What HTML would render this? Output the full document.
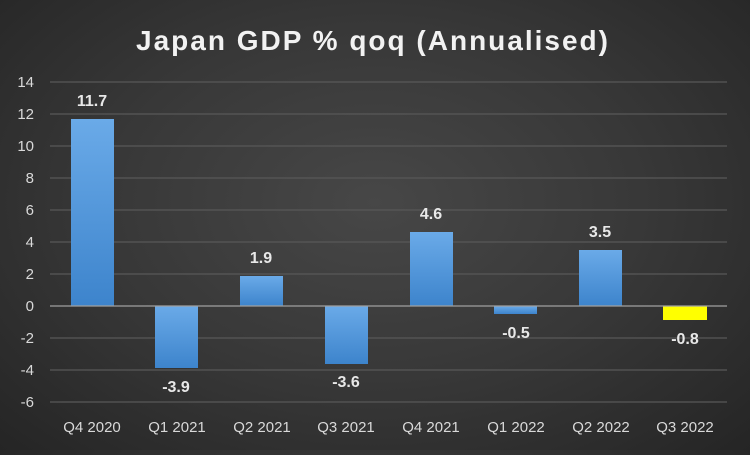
<!DOCTYPE html>
<html><head><style>
html,body{margin:0;padding:0;}
body{width:750px;height:450px;overflow:hidden;background:radial-gradient(ellipse at 50% 45%,#474747 0%,#383838 50%,#252525 100%);font-family:"Liberation Sans",sans-serif;}
</style></head><body>
<svg width="750" height="450" xmlns="http://www.w3.org/2000/svg">
<defs>
<linearGradient id="b" x1="0" y1="0" x2="0" y2="1"><stop offset="0" stop-color="#6aaae8"/><stop offset="1" stop-color="#3d84cc"/></linearGradient>
</defs>
<text x="373" y="50" text-anchor="middle" fill="#f2f2f2" font-size="28" font-weight="bold" letter-spacing="2">Japan GDP % qoq (Annualised)</text>
<g stroke="#585858" stroke-width="1.3">
<line x1="50" x2="727" y1="82" y2="82"/><line x1="50" x2="727" y1="114" y2="114"/><line x1="50" x2="727" y1="146" y2="146"/><line x1="50" x2="727" y1="178" y2="178"/><line x1="50" x2="727" y1="210" y2="210"/><line x1="50" x2="727" y1="242" y2="242"/><line x1="50" x2="727" y1="274" y2="274"/><line x1="50" x2="727" y1="338" y2="338"/><line x1="50" x2="727" y1="370" y2="370"/><line x1="50" x2="727" y1="402" y2="402"/>
</g>
<g fill="#d9d9d9" font-size="15" text-anchor="end">
<text x="34" y="87">14</text><text x="34" y="119">12</text><text x="34" y="151">10</text><text x="34" y="183">8</text><text x="34" y="215">6</text><text x="34" y="247">4</text><text x="34" y="279">2</text><text x="34" y="311">0</text><text x="34" y="343">-2</text><text x="34" y="375">-4</text><text x="34" y="407">-6</text>
</g>
<g fill="url(#b)">
<rect x="71" y="119" width="43" height="187"/>
<rect x="155" y="306" width="43" height="62"/>
<rect x="240" y="276" width="43" height="30"/>
<rect x="325" y="306" width="43" height="58"/>
<rect x="410" y="232" width="43" height="74"/>
<rect x="494" y="306" width="43" height="8"/>
<rect x="579" y="250" width="43" height="56"/>
</g>
<rect x="663" y="306" width="44" height="14" fill="#ffff00"/>
<line x1="50" x2="727" y1="306" y2="306" stroke="#a0a0a0" stroke-width="1.3"/>
<g fill="#e8e8e8" font-size="16" font-weight="bold" text-anchor="middle">
<text x="92" y="106">11.7</text><text x="176" y="392">-3.9</text><text x="261" y="263">1.9</text><text x="346" y="387">-3.6</text><text x="431" y="219">4.6</text><text x="516" y="338">-0.5</text><text x="600" y="237">3.5</text><text x="685" y="344">-0.8</text>
</g>
<g fill="#d9d9d9" font-size="15" text-anchor="middle">
<text x="92" y="432">Q4 2020</text><text x="177" y="432">Q1 2021</text><text x="262" y="432">Q2 2021</text><text x="346" y="432">Q3 2021</text><text x="431" y="432">Q4 2021</text><text x="516" y="432">Q1 2022</text><text x="601" y="432">Q2 2022</text><text x="685" y="432">Q3 2022</text>
</g>
</svg>
</body></html>
